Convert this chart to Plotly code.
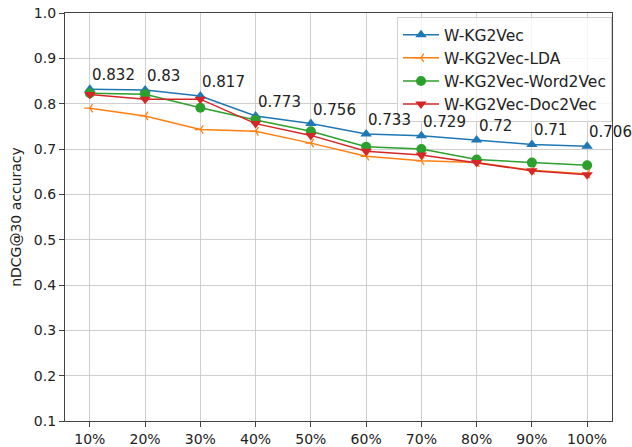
import plotly.graph_objects as go

# Training-set fraction on the x axis
fractions = ["10%", "20%", "30%", "40%", "50%", "60%", "70%", "80%", "90%", "100%"]

w_kg2vec = [0.832, 0.83, 0.817, 0.773, 0.756, 0.733, 0.729, 0.72, 0.71, 0.706]
w_kg2vec_lda = [0.79, 0.773, 0.743, 0.739, 0.713, 0.684, 0.674, 0.670, 0.653, 0.645]
w_kg2vec_word2vec = [0.823, 0.821, 0.791, 0.764, 0.739, 0.705, 0.700, 0.677, 0.670, 0.664]
w_kg2vec_doc2vec = [0.820, 0.810, 0.810, 0.756, 0.730, 0.695, 0.687, 0.670, 0.652, 0.643]

y_ticks = [0.1, 0.2, 0.3, 0.4, 0.5, 0.6, 0.7, 0.8, 0.9, 1.0]

FONT = "DejaVu Sans"
xs = list(range(len(fractions)))

fig = go.Figure()
fig.add_trace(go.Scatter(
    x=xs, y=w_kg2vec, name="W-KG2Vec", mode="lines+markers",
    line=dict(color="#1f77b4", width=1.5),
    marker=dict(symbol="triangle-up", size=10, color="#1f77b4"),
))
fig.add_trace(go.Scatter(
    x=xs, y=w_kg2vec_lda, name="W-KG2Vec-LDA", mode="lines+markers",
    line=dict(color="#ff7f0e", width=1.5),
    marker=dict(symbol="y-left", size=7, color="#ff7f0e",
                line=dict(color="#ff7f0e", width=1.3)),
))
fig.add_trace(go.Scatter(
    x=xs, y=w_kg2vec_word2vec, name="W-KG2Vec-Word2Vec", mode="lines+markers",
    line=dict(color="#2ca02c", width=1.5),
    marker=dict(symbol="circle", size=10, color="#2ca02c"),
))
fig.add_trace(go.Scatter(
    x=xs, y=w_kg2vec_doc2vec, name="W-KG2Vec-Doc2Vec", mode="lines+markers",
    line=dict(color="#d62728", width=1.5),
    marker=dict(symbol="triangle-down", size=10, color="#d62728"),
))

# Value labels above the W-KG2Vec points
for x, v in zip(xs, w_kg2vec):
    fig.add_annotation(
        x=x, y=v, text=f"{v:g}", showarrow=False,
        xanchor="left", yanchor="middle", xshift=0, yshift=14,
        font=dict(family=FONT, size=15, color="#222222"),
    )

axis_common = dict(
    showline=True, linecolor="#444444", linewidth=1.3, mirror=True,
    showgrid=True, gridcolor="#cfcfcf", gridwidth=1.2,
    ticks="outside", ticklen=5, tickcolor="#444444",
    tickfont=dict(family=FONT, size=14, color="#222222"),
    zeroline=False, automargin=False,
)

fig.update_xaxes(
    range=[-0.45, 9.45], tickvals=xs, ticktext=fractions, **axis_common,
)
fig.update_yaxes(
    range=[0.1, 1.0], tickvals=y_ticks, ticktext=[f"{t:.1f}" for t in y_ticks],
    title=dict(text="nDCG@30 accuracy", font=dict(family=FONT, size=14, color="#222222"),
               standoff=8),
    **axis_common,
)

fig.update_layout(
    width=632, height=447,
    margin=dict(l=65, r=20, t=13, b=26),
    paper_bgcolor="white", plot_bgcolor="white",
    font=dict(family=FONT, size=14, color="#222222"),
    legend=dict(
        x=1.0, y=0.99, xanchor="right", yanchor="top",
        bgcolor="rgba(255,255,255,0.8)", bordercolor="#d0d0d0", borderwidth=1,
        font=dict(family=FONT, size=15.5, color="#222222"),
        itemwidth=36, tracegroupgap=0,
    ),
    showlegend=True,
)

fig.write_html("out.html")
